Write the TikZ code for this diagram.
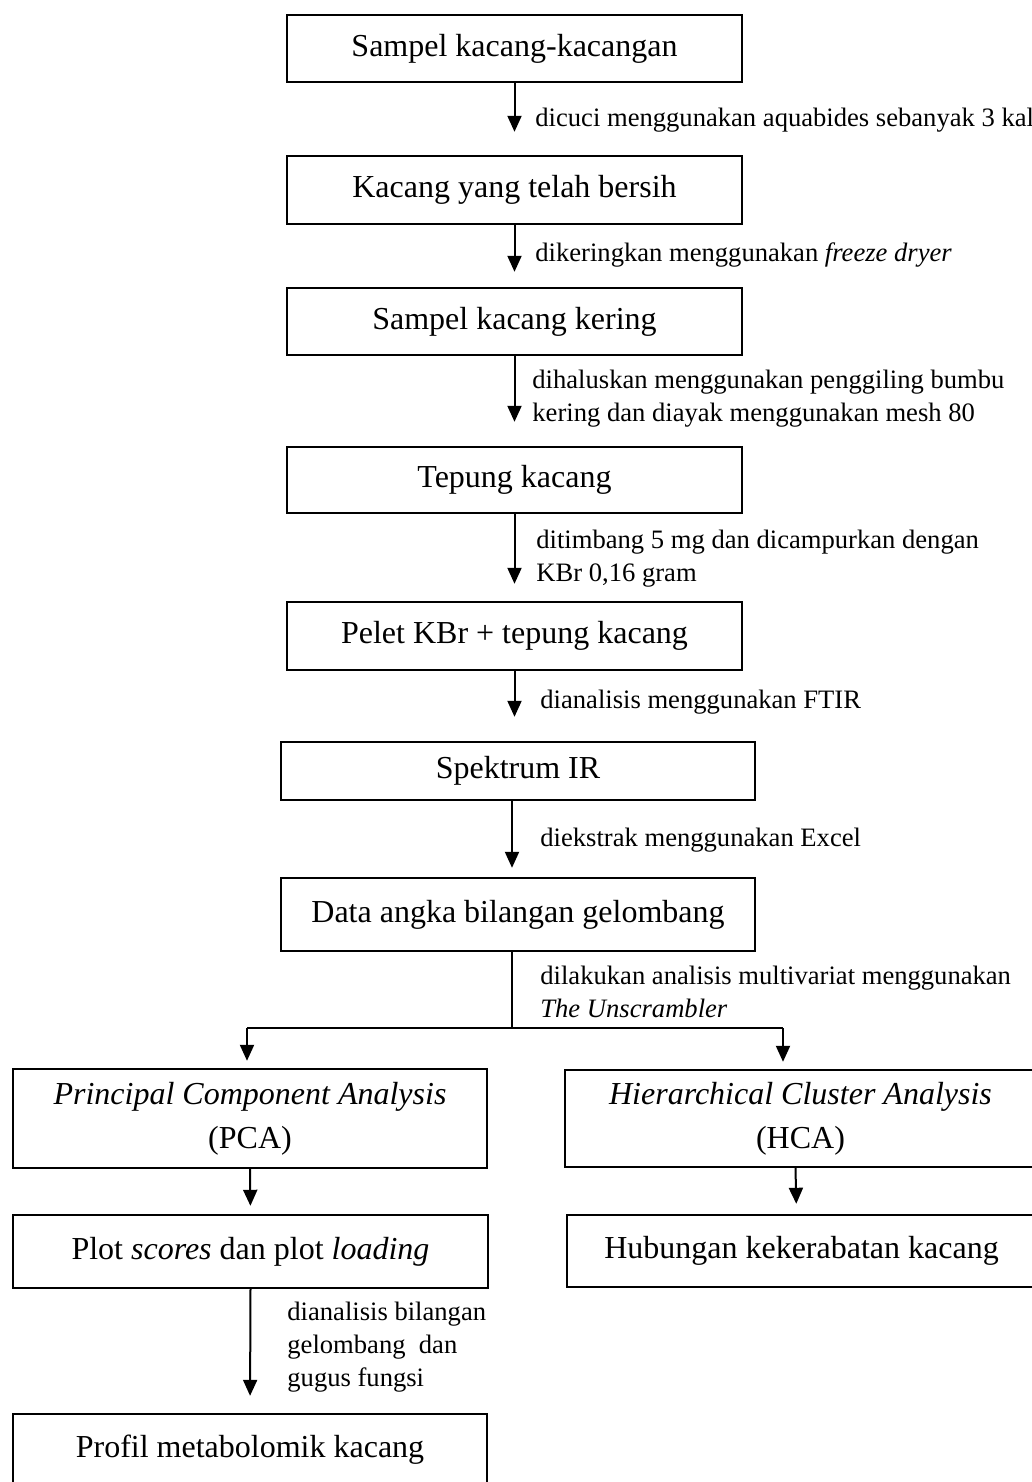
\documentclass[tikz,border=0pt]{standalone}
\usepackage{fontspec}
\setmainfont{Liberation Serif}
\usetikzlibrary{arrows.meta}

\begin{document}
\begin{tikzpicture}[x=0.5pt,y=-0.5pt,every node/.style={font=\fontsize{16}{22}\selectfont},
  box/.style={draw,line width=1.2pt,inner sep=0pt,align=center},
  lbl/.style={anchor=west,inner sep=0pt,align=left,font=\fontsize{13.3}{16.5}\selectfont},
  flow/.style={line width=1pt,-{Triangle[width=7pt,length=8pt]}}]
\useasboundingbox (0,0) rectangle (1032,1482);
% main column
\node[box,minimum width=227.5pt,minimum height=33.5pt] (sampel) at (514.5,48.5) {Sampel kacang-kacangan};
\node[box,minimum width=227.5pt,minimum height=34pt] (bersih) at (514.5,190) {Kacang yang telah bersih};
\node[box,minimum width=227.5pt,minimum height=33.5pt] (kering) at (514.5,321.5) {Sampel kacang kering};
\node[box,minimum width=227.5pt,minimum height=33pt] (tepung) at (514.5,480) {Tepung kacang};
\node[box,minimum width=227.5pt,minimum height=34pt] (pelet) at (514.5,636) {Pelet KBr + tepung kacang};
\node[box,minimum width=237pt,minimum height=29pt] (spektrum) at (518,771) {Spektrum IR};
\node[box,minimum width=237pt,minimum height=36.5pt] (data) at (518,914.5) {Data angka bilangan gelombang};
% two branches
\node[box,minimum width=237pt,minimum height=49.5pt] (pca) at (250,1118.5) {\textit{Principal Component Analysis}\\(PCA)};
\node[box,minimum width=235.5pt,minimum height=48.5pt] (hca) at (800.5,1118.5) {\textit{Hierarchical Cluster Analysis}\\(HCA)};
\node[box,minimum width=237.5pt,minimum height=36.5pt] (plot) at (250.5,1251.5) {Plot \textit{scores} dan plot \textit{loading}};
\node[box,minimum width=234.5pt,minimum height=36pt] (hubungan) at (801.5,1251) {Hubungan kekerabatan kacang};
\node[box,minimum width=237pt,minimum height=36pt] (profil) at (250,1450) {Profil metabolomik kacang};
% step labels
\node[lbl] (lcuci) at (535,120) {dicuci menggunakan aquabides sebanyak 3 kali};
\node[lbl] (lkering) at (535,255) {dikeringkan menggunakan \textit{freeze dryer}};
\node[lbl] (lhalus) at (532,398.5) {dihaluskan menggunakan penggiling bumbu\\kering dan diayak menggunakan mesh 80};
\node[lbl] (ltimbang) at (536,558.5) {ditimbang 5 mg dan dicampurkan dengan\\KBr 0,16 gram};
\node[lbl] (lftir) at (540,702) {dianalisis menggunakan FTIR};
\node[lbl] (lexcel) at (540,840) {diekstrak menggunakan Excel};
\node[lbl] (lmulti) at (540,991.5) {dilakukan analisis multivariat menggunakan\\\textit{The Unscrambler}};
\node[lbl] (lgugus) at (287,1347.5) {dianalisis bilangan\\gelombang\ \ dan\\gugus fungsi};
% arrows
\draw[flow,shorten >=11.5pt] (sampel.south) -- (bersih.north);
\draw[flow,shorten >=7.5pt] (bersih.south) -- (kering.north);
\draw[flow,shorten >=12pt] (kering.south) -- (tepung.north);
\draw[flow,shorten >=8.5pt] (tepung.south) -- (pelet.north);
\draw[flow,shorten >=12pt] (pelet.south) -- (pelet.south |- spektrum.north);
\draw[flow,shorten >=4.5pt] ([xshift=-3pt]spektrum.south) -- ([xshift=-3pt]data.north);
\coordinate (split) at (512,1028);
\coordinate (brL) at (247,1028);
\coordinate (brR) at (783,1028);
\draw[line width=1pt] ([xshift=-3pt]data.south) -- (split);
\draw[line width=1pt] (brL) -- (brR);
\draw[flow,shorten >=3.5pt] (brL) -- (brL |- pca.north);
\draw[flow,shorten >=3.5pt] (brR) -- (brR |- hca.north);
\draw[flow,shorten >=4pt] (pca.south) -- (plot.north);
\draw[flow,shorten >=5pt] ([xshift=-2.5pt]hca.south) -- ([xshift=-2.5pt]hubungan.north);
\draw[flow,shorten >=8.5pt] (plot.south) -- (profil.north);
\end{tikzpicture}
\end{document}
